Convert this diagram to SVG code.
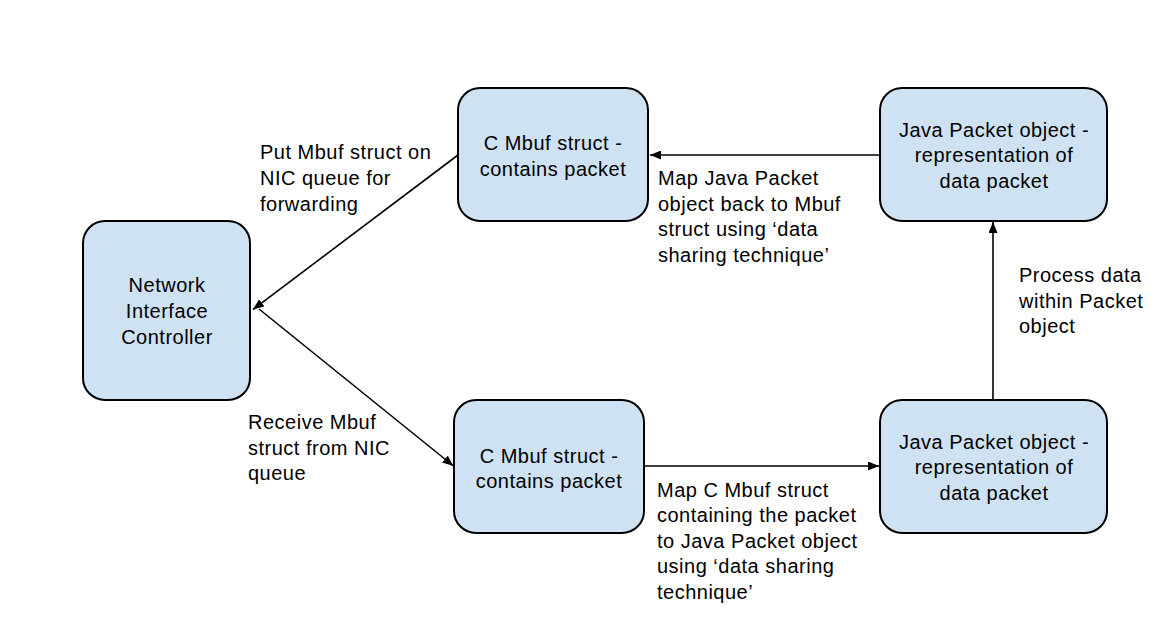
<svg xmlns="http://www.w3.org/2000/svg" width="1176" height="638" viewBox="0 0 1176 638">
<style>
.box{fill:#cfe2f3;stroke:#000;stroke-width:2}
.t{font-family:"Liberation Sans",Arial,sans-serif;font-size:20px;letter-spacing:0.5px;fill:#000}
.c{text-anchor:middle}
.conn{stroke:#000;stroke-width:1.6;fill:none;marker-end:url(#ah)}
</style>
<defs>
<marker id="ah" markerUnits="userSpaceOnUse" markerWidth="12" markerHeight="9" refX="11" refY="4.5" orient="auto">
<path d="M0,0 L11,4.5 L0,9 z" fill="#000"/>
</marker>
</defs>
<rect width="1176" height="638" fill="#fff"/>
<g id="connectors">
<line class="conn" x1="458" y1="155" x2="253" y2="309.5"/>
<line class="conn" x1="259" y1="309" x2="453.5" y2="466"/>
<line class="conn" x1="880" y1="155" x2="650" y2="155"/>
<line class="conn" x1="644" y1="466" x2="879" y2="466"/>
<line class="conn" x1="993" y1="400" x2="993" y2="222"/>
</g>
<g id="nic">
<rect class="box" x="83" y="221" width="167" height="179" rx="22"/>
<text class="t c" x="167" y="292">Network</text>
<text class="t c" x="167" y="318">Interface</text>
<text class="t c" x="167" y="344">Controller</text>
</g>
<g id="cmbuf-top">
<rect class="box" x="458" y="88" width="190" height="133" rx="22"/>
<text class="t c" x="553" y="150">C Mbuf struct -</text>
<text class="t c" x="553" y="176">contains packet</text>
</g>
<g id="java-top">
<rect class="box" x="880" y="88" width="227" height="133" rx="22"/>
<text class="t c" x="994" y="137">Java Packet object -</text>
<text class="t c" x="994" y="162">representation of</text>
<text class="t c" x="994" y="188">data packet</text>
</g>
<g id="cmbuf-bottom">
<rect class="box" x="454" y="400" width="190" height="133" rx="22"/>
<text class="t c" x="549" y="463">C Mbuf struct -</text>
<text class="t c" x="549" y="488">contains packet</text>
</g>
<g id="java-bottom">
<rect class="box" x="880" y="400" width="227" height="133" rx="22"/>
<text class="t c" x="994" y="449">Java Packet object -</text>
<text class="t c" x="994" y="474">representation of</text>
<text class="t c" x="994" y="500">data packet</text>
</g>
<g id="labels">
<text class="t" x="260" y="159">Put Mbuf struct on</text>
<text class="t" x="260" y="185">NIC queue for</text>
<text class="t" x="260" y="211">forwarding</text>
<text class="t" x="658" y="185">Map Java Packet</text>
<text class="t" x="658" y="211">object back to Mbuf</text>
<text class="t" x="658" y="236">struct using ‘data</text>
<text class="t" x="658" y="262">sharing technique’</text>
<text class="t" x="1019" y="282">Process data</text>
<text class="t" x="1019" y="308">within Packet</text>
<text class="t" x="1019" y="333">object</text>
<text class="t" x="248" y="429">Receive Mbuf</text>
<text class="t" x="248" y="455">struct from NIC</text>
<text class="t" x="248" y="480">queue</text>
<text class="t" x="657" y="497">Map C Mbuf struct</text>
<text class="t" x="657" y="522">containing the packet</text>
<text class="t" x="657" y="548">to Java Packet object</text>
<text class="t" x="657" y="573">using ‘data sharing</text>
<text class="t" x="657" y="599">technique’</text>
</g>
</svg>
